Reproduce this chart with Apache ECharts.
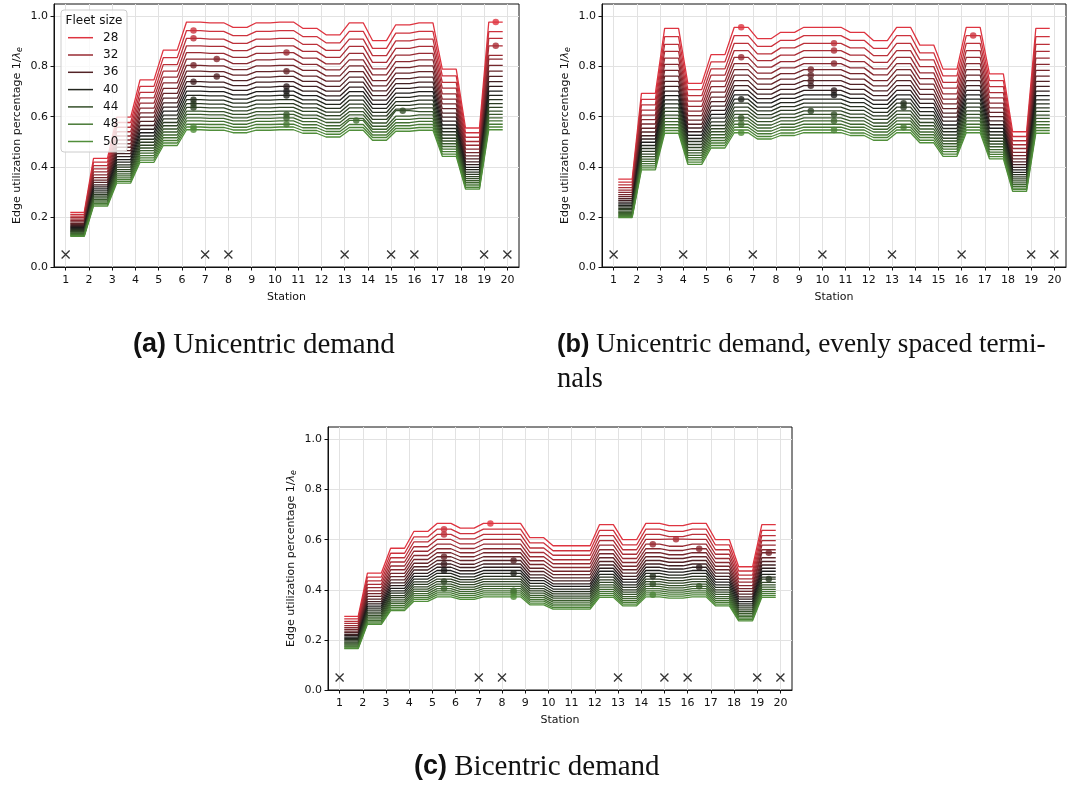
<!DOCTYPE html>
<html>
<head>
<meta charset="utf-8">
<script src="https://cdn.jsdelivr.net/npm/echarts@6/dist/echarts.min.js"></script>
<style>
html,body{margin:0;padding:0;background:#fff}
#chart{width:1077px;height:787px}
</style>
</head>
<body>
<div id="chart"></div>
<script>
// Stations along the line and the fleet sizes that were simulated
const stations = [1,2,3,4,5,6,7,8,9,10,11,12,13,14,15,16,17,18,19,20];
const fleetSizes = [28,29,30,31,32,33,34,35,36,37,38,39,40,41,42,43,44,45,46,47,48,49,50];
const legendFleets = [28,32,36,40,44,48,50];
const yTicks = [0,0.2,0.4,0.6,0.8,1.0];

// Terminal stations of each scenario (drawn as crosses near the axis)
const terminalsA = [1,7,8,13,15,16,19,20];
const terminalsB = [1,4,7,10,13,16,19,20];
const terminalsC = [1,7,8,13,15,16,19,20];
const terminalMarkY = 0.05;

// Edge utilization 1/lambda_e per fleet size (rows 28..50), edges 1-2 ... 19-20
const utilA = [
[.218,.434,.598,.747,.866,.978,.975,.957,.975,.978,.953,.927,.975,.904,.967,.975,.790,.555,.978],
[.210,.419,.577,.721,.836,.944,.941,.924,.941,.944,.920,.895,.941,.873,.934,.941,.763,.536,.940],
[.203,.405,.558,.697,.808,.913,.910,.893,.910,.913,.889,.865,.910,.844,.903,.910,.737,.518,.913],
[.197,.392,.540,.675,.782,.883,.881,.864,.881,.883,.861,.837,.881,.817,.873,.881,.714,.501,.883],
[.191,.380,.523,.654,.758,.856,.853,.837,.853,.856,.834,.811,.853,.791,.846,.853,.691,.486,.845],
[.185,.368,.507,.634,.735,.830,.830,.812,.827,.830,.809,.787,.827,.767,.820,.827,.670,.471,.830],
[.180,.357,.492,.615,.713,.805,.803,.788,.803,.805,.785,.763,.803,.744,.796,.803,.651,.457,.805],
[.174,.347,.478,.598,.693,.782,.780,.766,.780,.782,.762,.742,.780,.723,.774,.780,.632,.444,.782],
[.170,.338,.465,.581,.674,.761,.761,.744,.758,.761,.741,.721,.758,.703,.752,.758,.614,.432,.761],
[.165,.328,.453,.565,.655,.740,.738,.724,.738,.740,.721,.702,.738,.684,.732,.738,.598,.420,.740],
[.161,.320,.441,.550,.638,.721,.718,.705,.718,.721,.702,.683,.718,.666,.713,.718,.582,.409,.721],
[.157,.312,.429,.536,.622,.702,.700,.687,.700,.702,.684,.666,.700,.649,.694,.700,.567,.398,.702],
[.153,.304,.419,.523,.606,.685,.683,.670,.683,.685,.667,.649,.683,.633,.677,.683,.553,.389,.685],
[.149,.296,.408,.510,.591,.668,.666,.654,.666,.668,.651,.633,.666,.617,.660,.666,.540,.379,.668],
[.145,.289,.399,.498,.577,.652,.650,.638,.650,.652,.635,.618,.650,.603,.645,.650,.527,.370,.652],
[.142,.283,.389,.486,.564,.637,.635,.623,.635,.637,.621,.604,.635,.589,.630,.635,.514,.361,.637],
[.139,.276,.381,.475,.551,.622,.620,.609,.620,.622,.606,.590,.620,.575,.624,.620,.503,.353,.622],
[.136,.270,.372,.465,.539,.609,.607,.595,.607,.609,.593,.577,.607,.562,.602,.607,.492,.345,.609],
[.133,.264,.364,.455,.527,.595,.593,.583,.593,.595,.580,.564,.593,.550,.589,.593,.481,.338,.595],
[.130,.259,.356,.445,.516,.583,.581,.570,.581,.583,.568,.552,.585,.539,.576,.581,.471,.331,.583],
[.127,.253,.349,.436,.505,.570,.569,.558,.569,.570,.556,.541,.569,.527,.564,.569,.461,.324,.570],
[.125,.248,.342,.427,.495,.559,.557,.547,.557,.559,.545,.530,.557,.517,.553,.557,.451,.317,.559],
[.122,.243,.335,.418,.485,.548,.546,.536,.546,.548,.534,.519,.546,.506,.542,.546,.442,.311,.548]
];
const utilB = [
[.351,.693,.953,.733,.848,.957,.912,.937,.957,.957,.937,.904,.957,.886,.790,.957,.771,.540,.953],
[.339,.669,.920,.708,.819,.924,.881,.905,.924,.924,.905,.873,.924,.855,.763,.924,.744,.521,.920],
[.328,.647,.889,.684,.791,.893,.851,.875,.893,.893,.875,.844,.893,.827,.737,.893,.720,.504,.889],
[.317,.626,.861,.662,.766,.864,.824,.846,.864,.864,.846,.817,.864,.800,.714,.864,.696,.488,.861],
[.307,.606,.834,.641,.742,.837,.798,.820,.837,.837,.820,.791,.837,.775,.691,.837,.675,.473,.834],
[.298,.588,.809,.622,.720,.812,.774,.795,.812,.812,.795,.767,.812,.752,.670,.812,.654,.458,.809],
[.289,.571,.785,.604,.698,.788,.751,.772,.788,.788,.772,.744,.788,.730,.651,.788,.635,.445,.785],
[.281,.554,.762,.586,.678,.766,.730,.750,.766,.766,.750,.723,.766,.709,.632,.766,.617,.432,.762],
[.273,.539,.741,.570,.660,.744,.709,.729,.744,.744,.729,.703,.744,.689,.614,.744,.600,.420,.741],
[.266,.524,.721,.555,.642,.724,.690,.709,.724,.724,.709,.684,.724,.670,.598,.724,.583,.409,.721],
[.259,.511,.702,.540,.625,.705,.672,.690,.705,.705,.690,.666,.705,.653,.582,.705,.568,.398,.702],
[.252,.498,.684,.526,.609,.687,.655,.673,.687,.687,.673,.649,.687,.636,.567,.687,.554,.388,.684],
[.246,.485,.667,.513,.594,.670,.638,.656,.670,.670,.656,.633,.670,.620,.553,.670,.540,.378,.667],
[.240,.473,.651,.501,.579,.654,.623,.640,.654,.654,.640,.617,.654,.605,.540,.654,.527,.369,.651],
[.234,.462,.635,.489,.565,.638,.608,.625,.638,.638,.625,.603,.638,.591,.527,.638,.514,.360,.635],
[.229,.451,.621,.477,.552,.623,.594,.610,.623,.623,.610,.589,.623,.577,.514,.623,.502,.352,.621],
[.223,.441,.606,.466,.540,.609,.580,.596,.609,.609,.596,.575,.609,.564,.503,.609,.491,.344,.606],
[.218,.431,.593,.456,.528,.595,.567,.583,.595,.595,.583,.562,.595,.551,.492,.595,.480,.336,.593],
[.214,.422,.580,.446,.516,.583,.555,.570,.583,.583,.570,.550,.583,.539,.481,.583,.469,.329,.580],
[.209,.413,.568,.437,.505,.570,.543,.558,.570,.570,.558,.539,.570,.528,.471,.570,.459,.322,.568],
[.205,.404,.556,.428,.495,.558,.532,.547,.558,.558,.547,.527,.558,.517,.461,.558,.450,.315,.556],
[.201,.396,.545,.419,.485,.547,.521,.535,.547,.547,.535,.517,.547,.506,.451,.547,.441,.309,.545],
[.197,.388,.534,.410,.475,.536,.511,.525,.536,.536,.525,.506,.536,.496,.442,.536,.432,.302,.534]
];
const utilC = [
[.294,.467,.566,.633,.665,.646,.665,.665,.608,.576,.576,.660,.600,.665,.656,.665,.600,.492,.660],
[.284,.451,.546,.611,.642,.624,.642,.642,.587,.556,.556,.637,.579,.642,.633,.642,.579,.475,.637],
[.274,.436,.528,.591,.621,.603,.621,.621,.567,.538,.538,.616,.560,.621,.612,.621,.560,.459,.616],
[.266,.422,.511,.572,.601,.583,.601,.601,.549,.520,.520,.596,.542,.601,.602,.601,.542,.444,.596],
[.257,.409,.495,.554,.582,.565,.582,.582,.532,.504,.504,.578,.525,.582,.574,.582,.525,.431,.578],
[.249,.396,.480,.537,.564,.548,.564,.564,.516,.489,.489,.560,.509,.564,.557,.564,.509,.417,.560],
[.242,.385,.466,.521,.548,.532,.548,.548,.501,.474,.474,.544,.494,.548,.540,.548,.494,.405,.548],
[.235,.374,.453,.506,.532,.517,.532,.532,.486,.461,.461,.528,.480,.532,.525,.532,.480,.394,.528],
[.229,.363,.440,.492,.517,.502,.517,.517,.473,.448,.448,.513,.467,.517,.510,.517,.467,.383,.513],
[.222,.353,.428,.479,.503,.489,.503,.503,.460,.436,.436,.499,.454,.503,.496,.503,.454,.372,.499],
[.217,.344,.417,.466,.490,.476,.490,.490,.448,.424,.424,.486,.442,.490,.483,.490,.442,.363,.486],
[.211,.335,.406,.454,.477,.464,.477,.477,.437,.414,.414,.474,.431,.477,.471,.477,.431,.353,.474],
[.206,.327,.396,.443,.466,.452,.466,.466,.426,.403,.403,.462,.420,.466,.459,.466,.420,.344,.462],
[.201,.319,.387,.432,.454,.441,.454,.454,.415,.393,.393,.451,.410,.454,.448,.454,.410,.336,.451],
[.196,.311,.377,.422,.443,.431,.443,.443,.405,.384,.384,.440,.400,.443,.437,.443,.400,.328,.443],
[.191,.304,.369,.412,.433,.421,.433,.433,.396,.375,.375,.430,.391,.433,.427,.433,.391,.320,.430],
[.187,.297,.360,.403,.423,.411,.423,.423,.387,.367,.367,.420,.382,.423,.417,.423,.382,.313,.420],
[.183,.291,.352,.394,.414,.402,.414,.414,.378,.358,.358,.411,.373,.414,.408,.414,.373,.306,.411],
[.179,.284,.345,.385,.405,.393,.405,.405,.370,.351,.351,.402,.365,.405,.399,.405,.365,.299,.402],
[.175,.278,.337,.377,.396,.385,.396,.396,.362,.343,.343,.393,.357,.396,.391,.396,.357,.293,.393],
[.172,.272,.330,.369,.388,.377,.388,.388,.355,.336,.336,.385,.350,.388,.383,.388,.350,.287,.385],
[.168,.267,.323,.362,.380,.369,.380,.380,.347,.329,.329,.377,.343,.380,.375,.380,.343,.281,.377],
[.165,.262,.317,.354,.372,.362,.372,.372,.340,.323,.323,.370,.336,.372,.367,.372,.336,.276,.370]
];

// Most utilized edge of each fleet size (edge k joins station k and k+1)
const peakEdgeA = [19,6,6,19,10,7,6,10,7,6,10,10,10,6,6,6,15,10,10,13,10,6,6];
const peakEdgeB = [6,16,10,10,6,10,9,9,9,9,10,10,6,13,13,9,10,6,10,6,13,10,6];
const peakEdgeC = [7,5,5,15,14,16,19,5,8,5,16,5,8,14,19,5,14,16,5,8,8,14,8];

// red -> near black -> green colour ramp over the fleet sizes
function fleetColor(n) {
  const t = (n - fleetSizes[0]) / (fleetSizes[fleetSizes.length - 1] - fleetSizes[0]);
  const red = [222, 52, 64], mid = [30, 28, 28], green = [80, 142, 58];
  let a, b, u;
  if (t <= 0.5) { a = red; b = mid; u = t / 0.5; } else { a = mid; b = green; u = (t - 0.5) / 0.5; }
  return 'rgb(' + a.map((v, i) => Math.round(v + (b[i] - v) * u)).join(',') + ')';
}

const FONT = 'DejaVu Sans';
const grids = [
  {left: 54, top: 4, width: 465, height: 263},
  {left: 602, top: 4, width: 464, height: 263},
  {left: 328, top: 427, width: 464, height: 263}
];

function xAxisFor(i) {
  return {
    type: 'value', gridIndex: i, min: 0.5, max: 20.5,
    name: 'Station', nameLocation: 'middle', nameGap: 25,
    nameTextStyle: {fontFamily: FONT, fontSize: 11, color: '#111'},
    axisLine: {onZero: false, lineStyle: {color: '#111', width: 1}},
    axisTick: {show: true, length: 3.5, customValues: stations, lineStyle: {color: '#111'}},
    axisLabel: {customValues: stations, fontFamily: FONT, fontSize: 11, color: '#111', margin: 8},
    splitLine: {show: true, lineStyle: {color: '#e2e2e2', width: 1}}
  };
}
function yAxisFor(i) {
  return {
    type: 'value', gridIndex: i, min: 0, max: 1.05, interval: 0.2,
    name: '{a|Edge utilization percentage 1/}{b|λ}{c|e}',
    nameLocation: 'middle', nameGap: 30, nameRotate: 90,
    nameTextStyle: {
      fontFamily: FONT, fontSize: 11, color: '#111',
      rich: {
        a: {fontFamily: FONT, fontSize: 11, color: '#111'},
        b: {fontFamily: FONT, fontSize: 11, color: '#111', fontStyle: 'italic'},
        c: {fontFamily: FONT, fontSize: 8, color: '#111', fontStyle: 'italic', verticalAlign: 'bottom', padding: [5, 0, 0, 0]}
      }
    },
    axisLine: {show: true, lineStyle: {color: '#111', width: 1}},
    axisTick: {show: true, length: 3.5, customValues: yTicks, lineStyle: {color: '#111'}},
    axisLabel: {customValues: yTicks, fontFamily: FONT, fontSize: 11, color: '#111', margin: 6,
      formatter: v => Number(v).toFixed(1)},
    splitLine: {show: true, lineStyle: {color: '#e2e2e2', width: 1}}
  };
}

function panelSeries(i, util, peak, terminals) {
  const out = [];
  fleetSizes.forEach((n, k) => {
    const pts = [];
    util[k].forEach((v, j) => { const e = j + 1; pts.push([e + 0.2, v], [e + 0.8, v]); });
    out.push({
      type: 'line', name: String(n), xAxisIndex: i, yAxisIndex: i, data: pts,
      symbol: 'none', silent: true, z: 2,
      lineStyle: {width: 1.3, color: fleetColor(n)}
    });
  });
  out.push({
    type: 'scatter', xAxisIndex: i, yAxisIndex: i, symbolSize: 6.5, z: 4, silent: true,
    data: fleetSizes.map((n, k) => ({value: [peak[k] + 0.5, util[k][peak[k] - 1]], itemStyle: {color: fleetColor(n)}}))
  });
  out.push({
    type: 'scatter', xAxisIndex: i, yAxisIndex: i, z: 4, silent: true,
    symbol: 'path://M0,0L10,10M10,0L0,10', symbolSize: 8,
    itemStyle: {color: 'none', borderColor: '#000', borderWidth: 1.3},
    data: terminals.map(t => [t, terminalMarkY])
  });
  return out;
}

// Legend box drawn inside panel (a)
const legendEls = [{
  type: 'rect', shape: {x: 61, y: 10, width: 66, height: 142, r: 3},
  style: {fill: 'rgba(255,255,255,0.8)', stroke: '#cccccc', lineWidth: 1}, z: 100
}, {
  type: 'text', x: 94, y: 21, z: 101,
  style: {text: 'Fleet size', fontFamily: FONT, fontSize: 12, fill: '#111', textAlign: 'center', textVerticalAlign: 'middle'}
}];
legendFleets.forEach((n, k) => {
  const y = 37.7 + 17.3 * k;
  legendEls.push({type: 'line', shape: {x1: 68, y1: y, x2: 93, y2: y}, style: {stroke: fleetColor(n), lineWidth: 1.5}, z: 101});
  legendEls.push({type: 'text', x: 103, y: y, z: 101,
    style: {text: String(n), fontFamily: FONT, fontSize: 12, fill: '#111', textAlign: 'left', textVerticalAlign: 'middle'}});
});

function capRich(size) {
  return {
    b: {fontFamily: 'Liberation Sans', fontWeight: 'bold', fontSize: size - 2, fill: '#111'},
    r: {fontFamily: 'Liberation Serif', fontSize: size, fill: '#111'}
  };
}
const captionEls = [
  {type: 'text', x: 133, y: 345, style: {text: '{b|(a)}{r| Unicentric demand}', rich: capRich(29), textVerticalAlign: 'middle'}},
  {type: 'text', x: 557, y: 345, style: {text: '{b|(b)}{r| Unicentric demand, evenly spaced termi-}', rich: capRich(27.3), textVerticalAlign: 'middle'}},
  {type: 'text', x: 557, y: 380, style: {text: '{r|nals}', rich: capRich(28.5), textVerticalAlign: 'middle'}},
  {type: 'text', x: 414, y: 767, style: {text: '{b|(c)}{r| Bicentric demand}', rich: capRich(29), textVerticalAlign: 'middle'}}
];

const chart = echarts.init(document.getElementById('chart'), null, {renderer: 'canvas'});
chart.setOption({
  animation: false,
  backgroundColor: '#fff',
  grid: grids.map(g => Object.assign({show: true, borderColor: '#111', borderWidth: 1, backgroundColor: 'transparent'}, g)),
  xAxis: [0, 1, 2].map(xAxisFor),
  yAxis: [0, 1, 2].map(yAxisFor),
  series: [].concat(
    panelSeries(0, utilA, peakEdgeA, terminalsA),
    panelSeries(1, utilB, peakEdgeB, terminalsB),
    panelSeries(2, utilC, peakEdgeC, terminalsC)
  ),
  graphic: legendEls.concat(captionEls)
});
</script>
</body>
</html>
